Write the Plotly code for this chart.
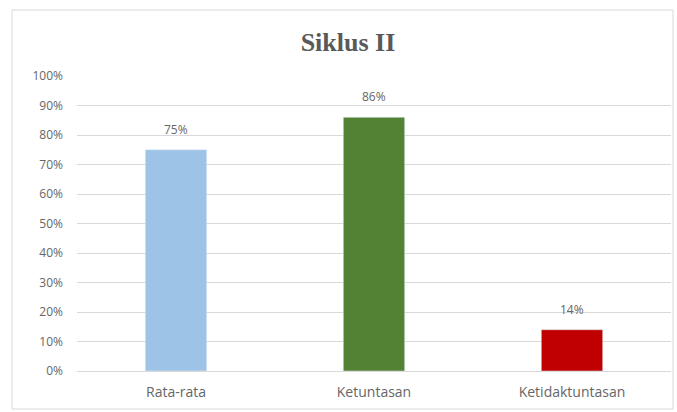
import plotly.graph_objects as go

categories = ["Rata-rata", "Ketuntasan", "Ketidaktuntasan"]
values = [0.75, 0.86, 0.14]
labels = ["75%", "86%", "14%"]
colors = ["#9DC3E6", "#548235", "#C00000"]
tick_vals = [i / 10 for i in range(11)]
tick_text = [f"{i*10}%" for i in range(11)]

FONT = "Open Sans, Liberation Sans, sans-serif"
TXT = "#666666"

fig = go.Figure(go.Bar(
    x=categories, y=values, marker_color=colors, width=0.31,
))

for c, v, t in zip(categories, values, labels):
    fig.add_annotation(x=c, y=v, text=t, showarrow=False, yanchor="bottom", yshift=10,
                       font=dict(family=FONT, size=12, color=TXT))

L, R, T, B = 77, 6, 76, 41
W, H = 677, 412
pw, ph = W - L - R, H - T - B

def px(x):
    return (x - L) / pw

def py(y):
    return (H - B - y) / ph

fig.update_layout(
    width=W, height=H,
    margin=dict(l=L, r=R, t=T, b=B),
    paper_bgcolor="white", plot_bgcolor="white",
    showlegend=False,
    title=dict(text="<b>Siklus II</b>", xref="container", x=348 / W, xanchor="center",
               yref="container", y=1 - 42 / H, yanchor="middle",
               font=dict(family="Liberation Serif, Times New Roman, serif", size=26, color="#595959")),
    xaxis=dict(showgrid=False, showline=True, linecolor="#D9D9D9", ticks="", ticklabelstandoff=8,
               tickfont=dict(family=FONT, size=14, color=TXT)),
    yaxis=dict(range=[0, 1], tickvals=tick_vals, ticktext=tick_text, showgrid=True,
               gridcolor="#D9D9D9", zeroline=False, ticks="", ticklabelstandoff=13,
               tickfont=dict(family=FONT, size=12, color=TXT)),
    shapes=[dict(type="rect", xref="paper", yref="paper",
                 x0=px(12), x1=px(673), y0=py(409), y1=py(10),
                 line=dict(color="#D9D9D9", width=1), fillcolor="rgba(0,0,0,0)", layer="below")],
)

fig.write_html("out.html")
